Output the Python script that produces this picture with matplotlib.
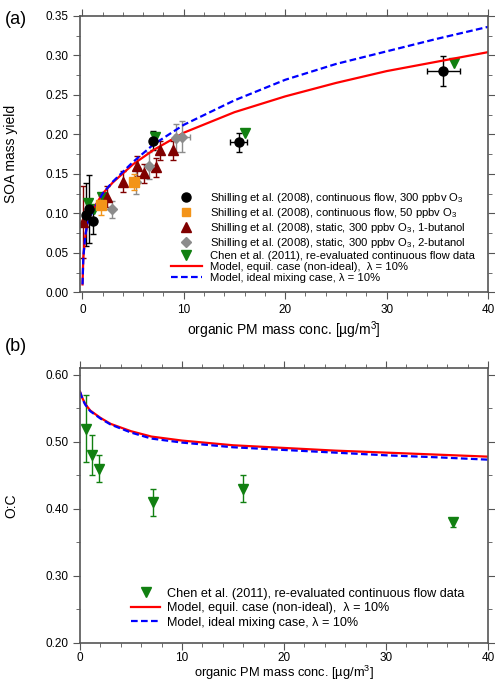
import matplotlib.pyplot as plt
import numpy as np
from matplotlib.lines import Line2D

plt.rcParams['font.family'] = ['Liberation Sans', 'DejaVu Sans']
plt.rcParams['mathtext.fontset'] = 'custom'
plt.rcParams['mathtext.rm'] = 'Liberation Sans'
plt.rcParams['mathtext.it'] = 'Liberation Sans:italic'

# --- panel (a): SOA mass yield ---
cf300_x = [0.4, 0.7, 1.1, 7.0, 15.4, 35.6]
cf300_y = [0.098, 0.105, 0.090, 0.192, 0.190, 0.280]
cf300_yerr = [0.040, 0.043, 0.016, 0.012, 0.012, 0.019]
cf300_xerr = [0.0, 0.0, 0.0, 0.0, 0.8, 1.6]

cf50_x = [1.8, 5.1]
cf50_y = [0.110, 0.140]
cf50_yerr = [0.012, 0.010]

st1_x = [0.1, 2.4, 4.0, 5.4, 6.1, 7.3, 7.7, 8.9]
st1_y = [0.089, 0.121, 0.140, 0.160, 0.151, 0.158, 0.180, 0.180]
st1_yerr = [0.045, 0.013, 0.013, 0.013, 0.012, 0.012, 0.012, 0.012]

st2_x = [2.9, 5.3, 6.6, 9.2, 9.8]
st2_y = [0.105, 0.140, 0.160, 0.195, 0.197]
st2_yerr = [0.011, 0.015, 0.017, 0.018, 0.020]
st2_xerr = [0.0, 0.0, 0.0, 0.0, 0.8]

chen_x = [0.6, 1.2, 1.9, 7.2, 16.0, 36.6]
chen_yield = [0.113, 0.105, 0.121, 0.196, 0.202, 0.290]
chen_oc = [0.52, 0.48, 0.46, 0.41, 0.43, 0.38]
chen_oc_err = [0.05, 0.03, 0.02, 0.02, 0.02, 0.007]

mod_a_x = [0.02, 0.1, 0.3, 0.5, 1, 2, 3, 5, 7, 10, 15, 20, 25, 30, 35, 40]
mod_a_red = [0.010, 0.045, 0.072, 0.088, 0.104, 0.125, 0.139, 0.162, 0.180, 0.202,
             0.228, 0.248, 0.265, 0.280, 0.292, 0.304]
mod_a_blue = [0.010, 0.045, 0.072, 0.087, 0.102, 0.125, 0.140, 0.165, 0.187, 0.212,
              0.243, 0.269, 0.289, 0.305, 0.321, 0.336]

# --- panel (b): O:C ---
mod_b_x = [0, 0.25, 0.5, 1, 2, 3, 5, 7, 10, 15, 20, 25, 30, 35, 40]
mod_b_red = [0.575, 0.565, 0.557, 0.547, 0.536, 0.527, 0.516, 0.508, 0.502,
             0.495, 0.491, 0.487, 0.484, 0.481, 0.478]
mod_b_blue = [0.575, 0.564, 0.556, 0.546, 0.535, 0.526, 0.514, 0.505, 0.499,
              0.492, 0.488, 0.484, 0.480, 0.477, 0.4735]

lab_cf300 = 'Shilling et al. (2008), continuous flow, 300 ppbv O$_3$'
lab_cf50 = 'Shilling et al. (2008), continuous flow, 50 ppbv O$_3$'
lab_st1 = 'Shilling et al. (2008), static, 300 ppbv O$_3$, 1-butanol'
lab_st2 = 'Shilling et al. (2008), static, 300 ppbv O$_3$, 2-butanol'
lab_chen = 'Chen et al. (2011), re-evaluated continuous flow data'
lab_red = 'Model, equil. case (non-ideal),  λ = 10%'
lab_blue = 'Model, ideal mixing case, λ = 10%'
xlab = 'organic PM mass conc. [µg/m$^3$]'

c_cf300, c_cf50, c_st1, c_st2, c_chen = 'black', '#f39419', '#800000', '#8c8c8c', '#118011'
spine_col = '#555555'
dash = (0, (3, 1.5))


def style_axes(ax):
    for s in ax.spines.values():
        s.set_color(spine_col)
        s.set_linewidth(1.2)
    ax.tick_params(which='both', direction='out', top=True, right=True,
                   color=spine_col, labelsize=8.5)
    ax.tick_params(which='major', length=5)
    ax.tick_params(which='minor', length=3)


fig = plt.figure(figsize=(4.95, 6.87), dpi=100)
ax1 = fig.add_axes([0.1616, 0.5745, 0.8244, 0.4025])
ax2 = fig.add_axes([0.1616, 0.0645, 0.8244, 0.3994])

ek = dict(linestyle='none', capsize=2.5, elinewidth=1, capthick=1, markersize=6.5)
ax1.errorbar(st1_x, st1_y, yerr=st1_yerr, fmt='^', color=c_st1, **ek)
ax1.errorbar(st2_x, st2_y, yerr=st2_yerr, xerr=st2_xerr, fmt='D', color=c_st2,
             **{**ek, 'markersize': 5})
ax1.errorbar(cf50_x, cf50_y, yerr=cf50_yerr, fmt='s', color=c_cf50, **ek)
ax1.errorbar(cf300_x, cf300_y, yerr=cf300_yerr, xerr=cf300_xerr, fmt='o', color=c_cf300, **ek)
ax1.plot(chen_x, chen_yield, 'v', color=c_chen, markersize=6.5, linestyle='none')
ax1.plot(mod_a_x, mod_a_red, color='red', lw=1.6)
ax1.plot(mod_a_x, mod_a_blue, color='blue', lw=1.6, ls=dash)

ax1.set_xlim(-0.23, 40)
ax1.set_ylim(0, 0.35)
ax1.set_xticks([0, 10, 20, 30, 40])
ax1.set_xticks(np.arange(0, 41, 2), minor=True)
ax1.set_yticks(np.arange(0, 0.351, 0.05))
ax1.set_yticks(np.arange(0, 0.351, 0.025), minor=True)
ax1.yaxis.set_major_formatter(plt.FormatStrFormatter('%.2f'))
ax1.set_ylabel('SOA mass yield', fontsize=10)
ax1.yaxis.set_label_coords(-0.152, 0.5)
ax1.set_xlabel(xlab, fontsize=10, labelpad=2)
style_axes(ax1)

ms = 6.5
hand_a = [Line2D([], [], marker='o', color=c_cf300, ls='none', ms=ms),
          Line2D([], [], marker='s', color=c_cf50, ls='none', ms=ms - 0.5),
          Line2D([], [], marker='^', color=c_st1, ls='none', ms=ms),
          Line2D([], [], marker='D', color=c_st2, ls='none', ms=ms - 1.5),
          Line2D([], [], marker='v', color=c_chen, ls='none', ms=ms),
          Line2D([], [], color='red', lw=1.6),
          Line2D([], [], color='blue', lw=1.6, ls=dash)]
labs_a = [lab_cf300, lab_cf50, lab_st1, lab_st2, lab_chen, lab_red, lab_blue]
ax1.legend(hand_a, labs_a, loc='lower left', bbox_to_anchor=(0.2, 0.0), frameon=False,
           fontsize=8.1, handlelength=2.8, handletextpad=0.7, labelspacing=0.1,
           borderpad=0.3)

ax2.errorbar(chen_x, chen_oc, yerr=chen_oc_err, fmt='v', color=c_chen, **ek)
ax2.plot(mod_b_x, mod_b_red, color='red', lw=1.6)
ax2.plot(mod_b_x, mod_b_blue, color='blue', lw=1.6, ls=dash)
ax2.set_xlim(0, 40)
ax2.set_ylim(0.2, 0.61)
ax2.set_xticks([0, 10, 20, 30, 40])
ax2.set_xticks(np.arange(0, 41, 2), minor=True)
ax2.set_yticks(np.arange(0.2, 0.601, 0.1))
ax2.set_yticks(np.arange(0.2, 0.601, 0.05), minor=True)
ax2.yaxis.set_major_formatter(plt.FormatStrFormatter('%.2f'))
ax2.set_ylabel('O:C', fontsize=10)
ax2.yaxis.set_label_coords(-0.152, 0.5)
style_axes(ax2)
ax2.tick_params(axis='x', which='major', pad=2)
ax2.set_xlabel(xlab, fontsize=9.3)
ax2.xaxis.set_label_coords(0.5, -0.078)

hand_b = [Line2D([], [], marker='v', color=c_chen, ls='none', ms=ms + 1),
          Line2D([], [], color='red', lw=1.6),
          Line2D([], [], color='blue', lw=1.6, ls=dash)]
ax2.legend(hand_b, [lab_chen, lab_red, lab_blue], loc='lower left',
           bbox_to_anchor=(0.095, 0.005), frameon=False, fontsize=9.1,
           handlelength=2.3, handletextpad=0.5, labelspacing=0.2, borderpad=0.5)

fig.text(0.01, 0.971, '(a)', fontsize=13, va='center')
fig.text(0.01, 0.495, '(b)', fontsize=13, va='center')

fig.savefig('out.png', dpi=100)
